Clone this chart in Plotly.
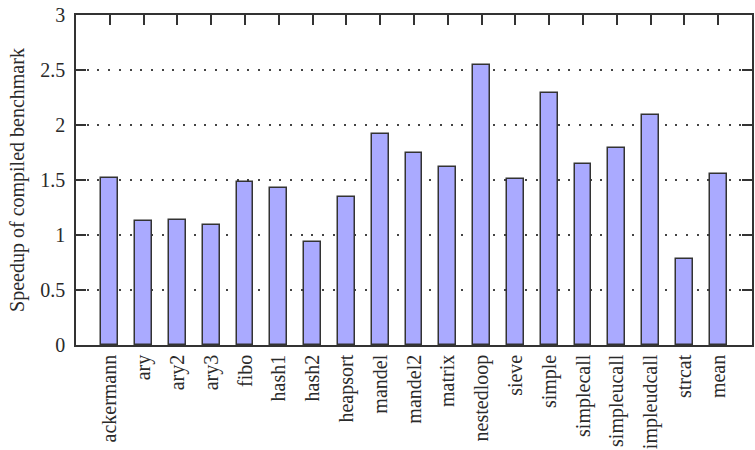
import plotly.graph_objects as go

benchmarks = ["ackermann", "ary", "ary2", "ary3", "fibo", "hash1", "hash2", "heapsort",
              "mandel", "mandel2", "matrix", "nestedloop", "sieve", "simple", "simplecall",
              "simpleucall", "simpleudcall", "strcat", "mean"]
speedup = [1.52, 1.125, 1.135, 1.095, 1.48, 1.425, 0.94, 1.35,
           1.915, 1.745, 1.62, 2.55, 1.505, 2.29, 1.643,
           1.788, 2.088, 0.78, 1.555]
y_ticks = [0, 0.5, 1, 1.5, 2, 2.5, 3]
y_tick_text = ["0", "0.5", "1", "1.5", "2", "2.5", "3"]

FONT = "Liberation Serif, Times New Roman, serif"
AX = "#333333"
TXT = "#2a2a2a"

fig = go.Figure()
fig.add_trace(go.Bar(
    x=list(range(len(benchmarks))), y=speedup, width=0.5,
    marker=dict(color="#aaaaff", line=dict(color=AX, width=1.5)),
))

fig.update_layout(
    width=755, height=450,
    margin=dict(l=76, r=3, t=15, b=105, autoexpand=False),
    paper_bgcolor="white", plot_bgcolor="white",
    showlegend=False,
    font=dict(family=FONT, size=20, color=TXT),
    bargap=0,
)
fig.update_xaxes(
    range=[-1, len(benchmarks)], automargin=False,
    tickmode="array", tickvals=list(range(len(benchmarks))), ticktext=benchmarks,
    tickangle=-90, ticks="inside", ticklen=10, tickwidth=1.5, tickcolor=AX,
    showline=True, linecolor=AX, linewidth=1.5, mirror="ticks",
    showgrid=False, zeroline=False, layer="below traces",
    tickfont=dict(family=FONT, size=20, color=TXT),
)
fig.update_yaxes(
    range=[0, 3], automargin=False,
    tickmode="array", tickvals=y_ticks, ticktext=y_tick_text,
    ticks="inside", ticklen=10, tickwidth=1.5, tickcolor=AX,
    ticklabelstandoff=5,
    showline=True, linecolor=AX, linewidth=1.5, mirror="ticks",
    showgrid=True, gridcolor="#444444", gridwidth=1.5, griddash="2px,8.7px",
    zeroline=False,
    title=dict(text="Speedup of compiled benchmark", font=dict(family=FONT, size=20, color=TXT), standoff=10),
    tickfont=dict(family=FONT, size=20, color=TXT),
)

fig.write_html("out.html")
